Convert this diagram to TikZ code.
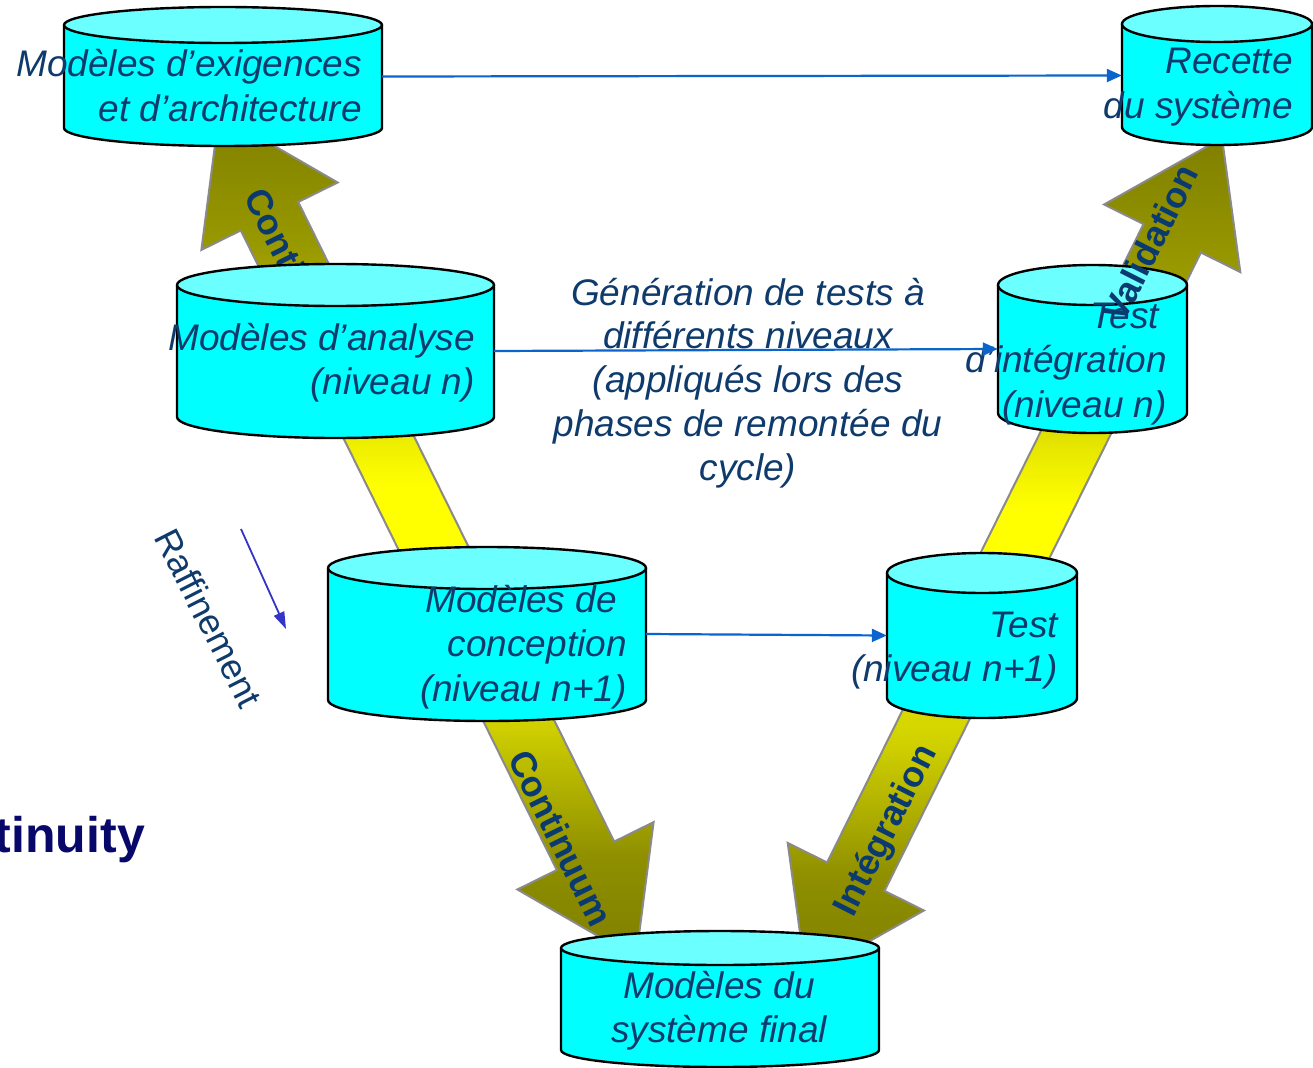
\documentclass[tikz,border=0pt]{standalone}
\usepackage{fontspec}
\setmainfont{Liberation Sans}
\usetikzlibrary{arrows.meta}

\definecolor{ink}{HTML}{0E3A6C}
\definecolor{lblink}{HTML}{0B3A70}
\definecolor{linkblue}{HTML}{0A64CC}
\definecolor{refblue}{HTML}{3434C8}
\definecolor{deepnavy}{HTML}{08086A}
\definecolor{drumside}{HTML}{00FFFF}
\definecolor{drumtop}{HTML}{6CFFFF}
\definecolor{bandedge}{HTML}{8A8A8A}

% olive -> yellow -> olive, bottom to top
\pgfdeclareverticalshading{vband}{100bp}{rgb(0bp)=(0.5,0.5,0); rgb(25bp)=(0.5,0.5,0); rgb(31bp)=(0.56,0.56,0); rgb(39bp)=(0.82,0.82,0); rgb(49bp)=(1,1,0); rgb(53bp)=(1,1,0); rgb(56bp)=(0.92,0.92,0); rgb(67bp)=(0.6,0.6,0); rgb(75bp)=(0.5,0.5,0); rgb(100bp)=(0.5,0.5,0)}

\newcommand{\rstack}[1]{\begin{tabular}[t]{@{}r@{}}#1\end{tabular}}
\newcommand{\cstack}[1]{\begin{tabular}[t]{@{}c@{}}#1\end{tabular}}

% cylinder: name, left x, right x, top y, bottom y, ellipse y radius
\newcommand{\drum}[6]{%
  \pgfmathsetmacro\drumcx{(#2+#3)/2}%
  \pgfmathsetmacro\drumcy{(#4+#5)/2}%
  \pgfmathsetmacro\drumrx{(#3-#2)/2}%
  \pgfmathsetmacro\drumh{#5-#4}%
  \pgfmathsetmacro\drumw{#3-#2}%
  \fill[drumside] (#2,#4) -- (#2,#5) arc[start angle=180,end angle=360,x radius=\drumrx pt,y radius=#6pt] -- (#3,#4) -- cycle;
  \draw[drumline] (#2,#4) -- (#2,#5) arc[start angle=180,end angle=360,x radius=\drumrx pt,y radius=#6pt] -- (#3,#4);
  \filldraw[drumline,fill=drumtop] (\drumcx,#4) ellipse[x radius=\drumrx pt,y radius=#6pt];
  \node[inner sep=0pt,minimum width=\drumw pt,minimum height=\drumh pt] (#1) at (\drumcx,\drumcy) {};
}

\tikzset{
  drumline/.style={draw=black,line width=2.4pt},
  band/.style={shade,shading=vband,draw=bandedge,line width=2pt,line join=miter},
  bandlabel/.style={font=\fontsize{36}{42}\selectfont\bfseries,text=lblink,inner sep=0pt},
  drumtext/.style={font=\fontsize{37}{44.5}\selectfont\itshape,text=ink,inner sep=0pt},
  midtext/.style={font=\fontsize{37}{43.8}\selectfont\itshape,text=ink,inner sep=0pt},
  link/.style={draw=linkblue,line width=2.2pt,-{Triangle[length=15pt,width=13pt]}},
}

\begin{document}
\begin{tikzpicture}[x=1pt,y=-1pt,line join=round]
\useasboundingbox (0,0) rectangle (1313,1067);
\clip (0,0) rectangle (1313,1067);
\fill[white] (0,0) rectangle (1313,1067);

% descending and ascending bands
\path[band] (219,114) -- (337.6,182.5) -- (298.2,202) -- (614.2,841.6) -- (653.6,822.1) -- (636,958)
  -- (517.4,889.5) -- (556.8,870) -- (240.8,230.4) -- (201.4,249.9) -- cycle;
\path[band] (1222,138) -- (1240.3,272.1) -- (1200.9,252.5) -- (884.5,890.9) -- (923.9,910.5) -- (806,977)
  -- (787.7,842.9) -- (827.1,862.5) -- (1143.5,224.1) -- (1104.1,204.5) -- cycle;

\node[bandlabel,rotate=-63.7] (contup) at (297,276) {Continuum};
\node[bandlabel,rotate=-63.7] (contdown) at (561,838) {Continuum};
\node[bandlabel,rotate=63.2] (integ) at (887,831) {Intégration};

% model and test repositories
\drum{exig}{64}{382}{25}{128}{18}
\drum{recette}{1122}{1312}{24}{127}{18}
\drum{analyse}{177}{494}{285}{417}{21}
\drum{concep}{328}{646}{568}{700}{21}
\drum{testint}{998}{1187}{285}{413}{20}
\drum{testn}{887}{1077}{573}{698}{20}
\drum{final}{561}{879}{948}{1050}{17}

\node[drumtext,anchor=base east] (exigtxt) at (362,77) {\rstack{Modèles d’exigences\\et d’architecture}};
\node[drumtext,anchor=base east] (recettetxt) at (1293,74) {\rstack{Recette\\du système}};
\node[drumtext,anchor=base east] (analysetxt) at (475,350) {\rstack{Modèles d’analyse\\(niveau n)}};
\node[drumtext,anchor=base east] (conceptxt) at (627,612) {\rstack{Modèles de\hspace*{10pt}\\conception\\(niveau n+1)}};
\node[drumtext,anchor=base east] (testinttxt) at (1167,328) {\rstack{Test\hspace*{8pt}\\d’intégration\\(niveau n)}};
\node[drumtext,anchor=base east] (testntxt) at (1058,637) {\rstack{Test\\(niveau n+1)}};
\node[drumtext,anchor=base] (finaltxt) at (719,998) {\cstack{Modèles du\\système final}};

\node[bandlabel,rotate=63.2] (valid) at (1150,243) {Validation};

\node[midtext,anchor=base] (gen) at (748,305) {\cstack{Génération de tests à\\différents niveaux\\(appliqués lors des\\phases de remontée du\\cycle)}};

% test generation links
\draw[link] (exig.east) -- (recette.west);
\draw[link] (analyse.east) -- (testint.west);
\draw[link] (concep.east) -- (testn.west);

% refinement
\node[font=\fontsize{36}{40}\selectfont,text=ink,rotate=-63,inner sep=0pt] (raff) at (209,618) {Raffinement};
\coordinate (rfa) at (241,529);
\coordinate (rfb) at (286,629);
\draw[draw=refblue,line width=1.8pt,-{Triangle[length=17pt,width=11pt]}] (rfa) -- (rfb);

\node[font=\fontsize{50}{56}\selectfont\bfseries,text=deepnavy,anchor=base east,inner sep=0pt] (contin) at (145,852) {Continuity};
\end{tikzpicture}
\end{document}
